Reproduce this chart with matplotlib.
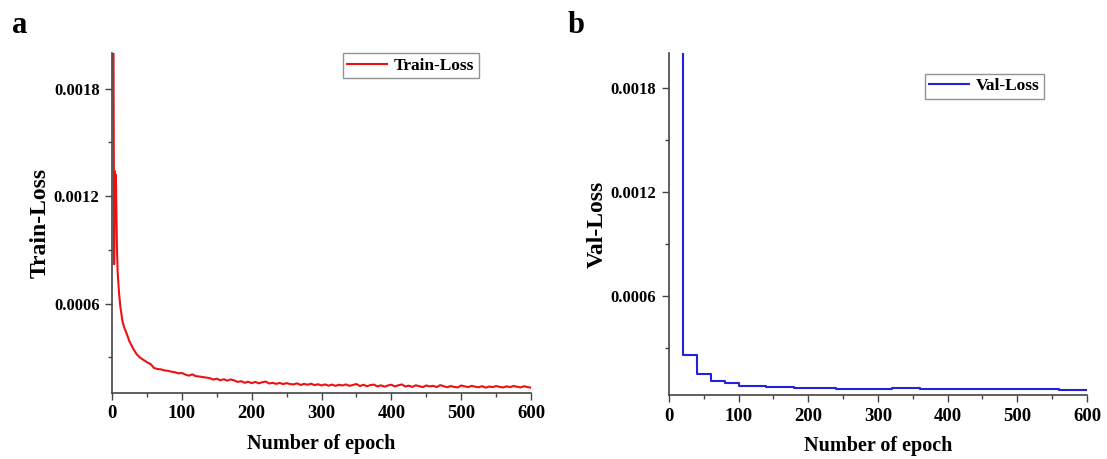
import matplotlib
matplotlib.use("Agg")
import matplotlib.pyplot as plt
from matplotlib.ticker import MultipleLocator, FormatStrFormatter

plt.rcParams['font.family'] = ['Liberation Serif', 'DejaVu Serif']
plt.rcParams['font.weight'] = 'bold'

# values
train_epoch = [1, 2, 3, 4, 5, 5.5, 6, 7, 8, 10, 12, 15, 18, 21, 25, 30, 35, 40, 45, 50, 55, 58] \
    + list(range(60, 601, 5))
train_loss = [0.00215, 0.00215, 0.00082, 0.00134, 0.00125, 0.00132, 0.00118, 0.00092, 0.00078,
              0.00066, 0.00058, 0.00050, 0.00046, 0.000432, 0.000388, 0.000350, 0.000318,
              0.000298, 0.000285, 0.000272, 0.000262, 0.000250,
              # 60 .. 600, every 5 epochs
              0.000240, 0.000234, 0.000232, 0.000226, 0.000224, 0.000219, 0.000216, 0.000210, 0.000212, 0.000203,
              0.000197, 0.000204, 0.000194, 0.000192, 0.000189, 0.000186, 0.000183, 0.000175, 0.000180, 0.000171,
              0.000177, 0.000169, 0.000176, 0.000170, 0.000162, 0.000166, 0.000157, 0.000163, 0.000155, 0.000162,
              0.000154, 0.000160, 0.000164, 0.000153, 0.000157, 0.000151, 0.000156, 0.000150, 0.000155, 0.000150,
              0.000148, 0.000154, 0.000145, 0.000151, 0.000146, 0.000152, 0.000144, 0.000149, 0.000142, 0.000148,
              0.000141, 0.000147, 0.000140, 0.000146, 0.000142, 0.000148, 0.000140, 0.000145, 0.000150, 0.000139,
              0.000146, 0.000138, 0.000144, 0.000147, 0.000137, 0.000143, 0.000135, 0.000142, 0.000146, 0.000137,
              0.000143, 0.000148, 0.000136, 0.000141, 0.000134, 0.000143, 0.000138, 0.000133, 0.000142, 0.000137,
              0.000140, 0.000133, 0.000144, 0.000138, 0.000132, 0.000139, 0.000134, 0.000131, 0.000142, 0.000137,
              0.000133, 0.000140, 0.000135, 0.000132, 0.000138, 0.000130, 0.000136, 0.000133, 0.000139, 0.000134,
              0.000131, 0.000137, 0.000133, 0.000139, 0.000135, 0.000131, 0.000138, 0.000133, 0.000130]

val_epoch = [20, 20, 40, 60, 80, 100, 120, 140, 180, 240, 300, 320, 360, 560, 600]
val_loss = [0.0022, 0.000260, 0.000149, 0.000112, 0.0000974, 0.0000836, 0.000080, 0.000076,
            0.000070, 0.000066, 0.000063, 0.000068, 0.000065, 0.000059, 0.000059]

fig = plt.figure(figsize=(11.07, 4.59), dpi=100)
ax1 = fig.add_axes([0.1012, 0.1438, 0.3785, 0.7407])
ax2 = fig.add_axes([0.6043, 0.1394, 0.3776, 0.7450])

ax1.plot(train_epoch, train_loss, color='#ee1111', lw=1.5, label='Train-Loss')
ax2.plot(val_epoch, val_loss, color='#2222dd', lw=1.5, drawstyle='steps-post', label='Val-Loss')

for ax, ylab, ymin in [(ax1, 'Train-Loss', 0.0001), (ax2, 'Val-Loss', 0.00003)]:
    ax.set_xlim(0, 600)
    ax.set_ylim(ymin, 0.002)
    ax.spines['top'].set_visible(False)
    ax.spines['right'].set_visible(False)
    for s in ['left', 'bottom']:
        ax.spines[s].set_color('#444444')
        ax.spines[s].set_linewidth(1.2)
    ax.xaxis.set_major_locator(MultipleLocator(100))
    ax.xaxis.set_minor_locator(MultipleLocator(50))
    ax.yaxis.set_major_locator(MultipleLocator(0.0006))
    ax.yaxis.set_minor_locator(MultipleLocator(0.0003))
    ax.yaxis.set_major_formatter(FormatStrFormatter('%.4f'))
    ax.tick_params(which='major', direction='out', length=5, width=1, color='#444444')
    ax.tick_params(which='minor', direction='out', length=3, width=1, color='#444444')
    ax.tick_params(axis='x', labelsize=13.5, pad=4)
    ax.tick_params(axis='y', labelsize=12, pad=4)
    for t in ax.get_xticklabels() + ax.get_yticklabels():
        t.set_fontweight('bold')
    ax.set_xlabel('Number of epoch', fontsize=14.5, fontweight='bold', labelpad=8)
    ax.set_ylabel(ylab, fontsize=17, fontweight='bold', labelpad=2)

ax1.legend(loc='upper left', bbox_to_anchor=(0.551, 0.999), borderaxespad=0, fancybox=False,
           edgecolor='#777777', handlelength=2.3, borderpad=0.25,
           handletextpad=0.4, prop={'weight': 'bold', 'size': 12.5})
ax2.legend(loc='upper left', bbox_to_anchor=(0.612, 0.939), borderaxespad=0, fancybox=False,
           edgecolor='#777777', handlelength=2.3, borderpad=0.25,
           handletextpad=0.4, prop={'weight': 'bold', 'size': 12.5})

fig.text(12 / 1107, 1 - 33 / 459, 'a', fontsize=22, fontweight='bold')
fig.text(568 / 1107, 1 - 33 / 459, 'b', fontsize=22, fontweight='bold')

fig.savefig('out.png', dpi=100)
